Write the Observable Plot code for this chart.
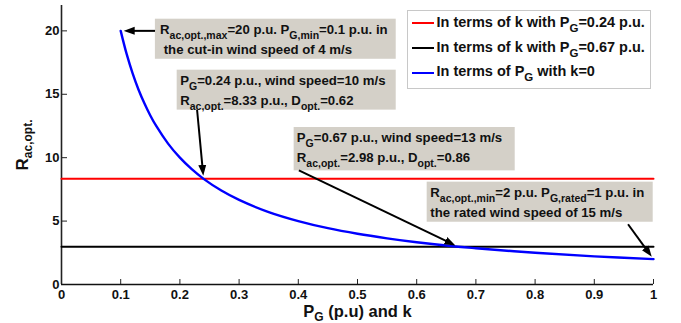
<!DOCTYPE html>
<html>
<head>
<meta charset="utf-8">
<script src="https://cdn.jsdelivr.net/npm/d3@7"></script>
<script src="https://cdn.jsdelivr.net/npm/@observablehq/plot@0.6"></script>
<style>
  body { margin: 0; background: #fff; }
  #chart { position: relative; width: 681px; height: 323px; font-family: "Liberation Sans", Arial, sans-serif; }
  #chart svg text { white-space: pre; }
  #legend { position: absolute; left: 407px; top: 10px; width: 244px; height: 79px; box-sizing: border-box;
            border: 1px solid #c8c8c8; background: #fff; font-weight: bold; font-size: 14.5px; color: #111; }
  #legend .row { position: absolute; left: 0; height: 17px; line-height: 17px; white-space: nowrap; }
  #legend .sw { position: absolute; left: 3.5px; top: 8.3px; width: 22px; height: 0; border-top: 2px solid; }
  #legend .lab { position: absolute; left: 28.5px; top: 0; }
  #legend sub { font-size: 11.5px; vertical-align: -5px; line-height: 0; }
</style>
</head>
<body>
<div id="chart"><div id="legend"></div></div>
<script>
// Blue curve: optimal AC resistance versus generator power (k = 0)
const pg  = [0.10, 0.11, 0.12, 0.13, 0.14, 0.15, 0.16, 0.18, 0.20, 0.22, 0.24, 0.27, 0.30, 0.35, 0.40, 0.45, 0.50, 0.55, 0.60, 0.67, 0.70, 0.80, 0.90, 1.00];
const rac = [20.0, 18.18, 16.67, 15.38, 14.29, 13.33, 12.5, 11.11, 10.0, 9.09, 8.33, 7.41, 6.67, 5.71, 5.0, 4.44, 4.0, 3.64, 3.33, 2.98, 2.86, 2.5, 2.22, 2.0];

// Horizontal series: resistance versus k at fixed generator power
const kRange = [0, 1];
const racAtPg024 = 8.33;
const racAtPg067 = 2.98;

// Legend entries
const seriesNames  = ["In terms of k with P_{G}=0.24 p.u.", "In terms of k with P_{G}=0.67 p.u.", "In terms of P_{G} with k=0"];
const seriesColors = ["#ff0000", "#000000", "#0000ff"];

// Axis ticks
const xTicks = [0, 0.1, 0.2, 0.3, 0.4, 0.5, 0.6, 0.7, 0.8, 0.9, 1];
const yTicks = [0, 5, 10, 15, 20];

// Annotated operating points and their callout texts
const notePgValues  = [0.1, 0.24, 0.67, 1];
const noteRacValues = [20, 8.33, 2.98, 2];
const noteLine1 = [
  "R_{ac,opt.,max}=20 p.u. P_{G,min}=0.1 p.u. in",
  "P_{G}=0.24 p.u., wind speed=10 m/s",
  "P_{G}=0.67 p.u., wind speed=13 m/s",
  "R_{ac,opt.,min}=2 p.u. P_{G,rated}=1 p.u. in"
];
const noteLine2 = [
  " the cut-in wind speed of 4 m/s",
  "R_{ac,opt.}=8.33 p.u., D_{opt.}=0.62",
  "R_{ac,opt.}=2.98 p.u., D_{opt.}=0.86",
  "the rated wind speed of 15 m/s"
];

// Callout box placement (in axis units) and arrow tail anchors
const calloutLayout = [
  {x1: 0.1586, x2: 0.5654, y1: 17.76, y2: 20.92, tx: 0.1665, tailX: 0.158, tailY: 20.0},
  {x1: 0.1954, x2: 0.5654, y1: 13.75, y2: 16.90, tx: 0.2005, tailX: 0.229, tailY: 13.78},
  {x1: 0.3930, x2: 0.7664, y1: 8.96,  y2: 12.38, tx: 0.3975, tailX: 0.401, tailY: 9.0},
  {x1: 0.6177, x2: 0.9995, y1: 4.91,  y2: 8.07,  tx: 0.6230, tailX: 0.957, tailY: 4.75}
];
const callouts = calloutLayout.map((c, i) => ({
  ...c, l1: noteLine1[i], l2: noteLine2[i], px: notePgValues[i], py: noteRacValues[i]
}));

const font = "'Liberation Sans', Arial, sans-serif";

const plot = Plot.plot({
  width: 681,
  height: 323,
  marginLeft: 61,
  marginRight: 28,
  marginTop: 5,
  marginBottom: 39,
  x: {domain: [0, 1]},
  y: {domain: [0, 22]},
  style: {fontFamily: font, fontSize: "13px", fontWeight: "bold", color: "#111", background: "#fff", overflow: "visible"},
  marks: [
    // inward tick marks
    Plot.axisX(xTicks, {tickSize: 5, dy: -5, tickFormat: () => "", label: null, stroke: "#222"}),
    Plot.axisY(yTicks, {tickSize: 6, dx: 6, tickFormat: () => "", label: null, stroke: "#222"}),
    // tick labels
    Plot.axisX(xTicks, {tickSize: 0, tickPadding: 5, tickFormat: d => String(d), label: null, fontSize: 13, fontWeight: "bold"}),
    Plot.axisY(yTicks, {tickSize: 0, tickPadding: 2, tickFormat: d => String(d), label: null, fontSize: 13, fontWeight: "bold"}),
    // axis spines
    Plot.ruleX([0], {stroke: "#222", strokeWidth: 1.6}),
    Plot.ruleY([0], {stroke: "#111", strokeWidth: 1.6}),
    // series
    Plot.line(kRange, {x: d => d, y: () => racAtPg024, stroke: seriesColors[0], strokeWidth: 2}),
    Plot.line(kRange, {x: d => d, y: () => racAtPg067, stroke: seriesColors[1], strokeWidth: 2}),
    Plot.line(pg, {x: pg, y: rac, stroke: seriesColors[2], strokeWidth: 2.4, curve: "catmull-rom"}),
    // callout boxes
    Plot.rect(callouts, {x1: "x1", x2: "x2", y1: "y1", y2: "y2", fill: "#d4d0c8"}),
    Plot.text(callouts, {x: "tx", y: "y2", text: "l1", dy: 15, textAnchor: "start", lineAnchor: "bottom", fontSize: 13.2, fontWeight: "bold", fill: "#111"}),
    Plot.text(callouts, {x: "tx", y: "y2", text: "l2", dy: 35, textAnchor: "start", lineAnchor: "bottom", fontSize: 13.2, fontWeight: "bold", fill: "#111"}),
    // callout arrows
    Plot.link(callouts, {x1: "tailX", y1: "tailY", x2: "px", y2: "py", stroke: "#000", strokeWidth: 2}),
    // axis titles
    Plot.text(["R_{ac,opt.}"], {text: d => d, frameAnchor: "left", rotate: -90, dx: -34, lineAnchor: "bottom", textAnchor: "middle", fontSize: 17, fontWeight: "bold", fill: "#111"}),
    Plot.text(["P_{G} (p.u) and k"], {text: d => d, frameAnchor: "bottom", dy: 32.5, lineAnchor: "bottom", textAnchor: "middle", fontSize: 16.5, fontWeight: "bold", fill: "#111"})
  ]
});

const chart = document.getElementById("chart");
chart.insertBefore(plot, chart.firstChild);

const SVGNS = "http://www.w3.org/2000/svg";

// Turn "_{...}" markup into lowered, smaller tspans
function renderSubscripts(textEl) {
  const src = textEl.textContent;
  if (!src.includes("_{")) return;
  const size = parseFloat(getComputedStyle(textEl).fontSize);
  const subSize = size >= 15 ? 12 : 10.5;
  const shift = size >= 15 ? 4 : 4.5;
  while (textEl.firstChild) textEl.removeChild(textEl.firstChild);
  let lowered = false;
  for (const part of src.split(/(_\{[^}]*\})/).filter(s => s.length)) {
    const ts = document.createElementNS(SVGNS, "tspan");
    if (part.startsWith("_{")) {
      ts.textContent = part.slice(2, -1);
      ts.setAttribute("font-size", subSize);
      if (!lowered) ts.setAttribute("dy", shift);
      lowered = true;
    } else {
      ts.textContent = part;
      if (lowered) ts.setAttribute("dy", -shift);
      lowered = false;
    }
    textEl.appendChild(ts);
  }
}
plot.querySelectorAll("text").forEach(renderSubscripts);

// Filled arrowheads on the callout links, stopping just short of the point
const defs = document.createElementNS(SVGNS, "defs");
defs.innerHTML = '<marker id="callout-head" markerUnits="userSpaceOnUse" viewBox="0 -5 11 10" markerWidth="11" markerHeight="10" refX="11" refY="0" orient="auto"><path d="M0,-4L11,0L0,4Z" fill="#000"/></marker>';
plot.insertBefore(defs, plot.firstChild);
plot.querySelectorAll('g[aria-label="link"] path').forEach(p => {
  const n = (p.getAttribute("d").match(/-?\d*\.?\d+(e-?\d+)?/g) || []).map(Number);
  if (n.length < 4) return;
  const [x1, y1] = n, x2 = n[n.length - 2], y2 = n[n.length - 1];
  const len = Math.hypot(x2 - x1, y2 - y1), gap = 3;
  const ex = x2 - (x2 - x1) / len * gap, ey = y2 - (y2 - y1) / len * gap;
  p.setAttribute("d", `M${x1},${y1}L${ex},${ey}`);
  p.setAttribute("stroke-dasharray", `${len - gap - 7} ${len}`);
  p.setAttribute("marker-end", "url(#callout-head)");
});

// Legend
const legend = d3.select("#legend");
const rowTops = [3, 27.7, 52.4];
seriesNames.forEach((name, i) => {
  const row = legend.append("div").attr("class", "row").style("top", rowTops[i] + "px");
  row.append("span").attr("class", "sw").style("border-color", seriesColors[i]);
  row.append("span").attr("class", "lab").html(name.replace(/_\{([^}]*)\}/g, "<sub>$1</sub>"));
});
</script>
</body>
</html>
